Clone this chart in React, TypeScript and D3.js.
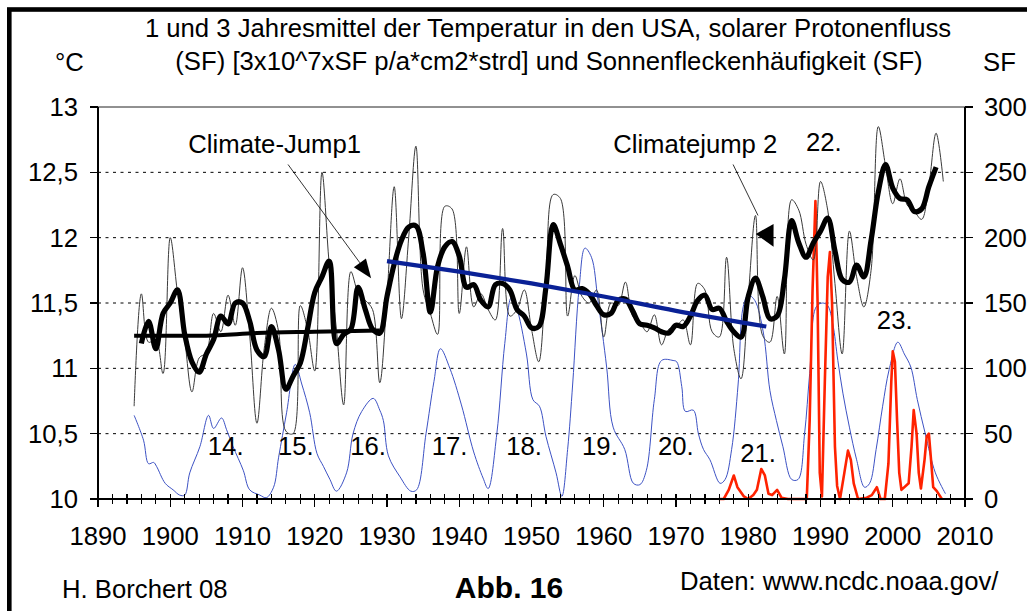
import React from "react";
import * as d3 from "d3";

// ---------- data ----------
const TEMP_START = 1895;
// annual mean temperature USA (°C), 1895–2007
const tempAnnual = [
  10.71, 11.57, 11.2, 11.22, 10.96, 12.0, 11.58, 11.22, 10.82, 11.08,
  11.12, 11.42, 11.28, 11.56, 11.33, 11.77, 11.25, 10.58, 11.15, 11.46,
  11.28, 10.52, 10.5, 11.48, 11.3, 10.98, 12.5, 11.8, 11.3, 10.72,
  11.74, 11.58, 11.52, 11.45, 10.89, 11.55, 12.39, 11.38, 12.0, 12.7,
  11.6, 11.42, 11.26, 12.24, 12.22, 11.42, 11.93, 11.47, 11.57, 11.45,
  11.37, 12.07, 11.4, 11.45, 11.6, 11.3, 11.05, 11.7, 12.33, 12.3,
  11.4, 11.71, 11.55, 11.5, 11.6, 11.24, 11.5, 11.48, 11.66, 11.4,
  11.35, 11.28, 11.41, 11.18, 11.3, 11.32, 11.37, 11.18, 11.65, 11.6,
  11.28, 11.24, 11.85, 11.15, 10.92, 11.55, 12.17, 11.25, 11.2, 11.55,
  11.11, 12.29, 12.21, 11.95, 11.83, 12.43, 12.21, 11.65, 11.11, 12.05,
  11.7, 11.47, 11.75, 12.85, 12.55, 12.26, 12.45, 12.25, 12.2, 12.14,
  12.4, 12.8, 12.43,
];
const MEAN_START = 1896;
// 3-year running mean (°C), 1896–2006
const temp3yr = [
  11.19, 11.36, 11.15, 11.42, 11.5, 11.6, 11.26, 11.05, 10.97, 11.11,
  11.22, 11.4, 11.34, 11.5, 11.5, 11.36, 11.14, 11.09, 11.32, 11.14,
  10.84, 10.94, 11.04, 11.3, 11.58, 11.7, 11.82, 11.19, 11.26, 11.3,
  11.62, 11.45, 11.3, 11.27, 11.55, 11.8, 11.98, 12.08, 12.09, 11.88,
  11.43, 11.78, 11.93, 11.97, 11.86, 11.62, 11.64, 11.52, 11.47, 11.64,
  11.65, 11.6, 11.45, 11.4, 11.31, 11.32, 11.62, 12.1, 11.95, 11.78,
  11.6, 11.61, 11.57, 11.48, 11.41, 11.42, 11.52, 11.53, 11.44, 11.34,
  11.33, 11.31, 11.28, 11.27, 11.33, 11.32, 11.4, 11.52, 11.56, 11.45,
  11.46, 11.36, 11.28, 11.24, 11.55, 11.69, 11.55, 11.38, 11.4, 11.68,
  12.13, 11.96, 11.85, 11.96, 12.05, 12.15, 11.9, 11.68, 11.66, 11.79,
  11.7, 11.98, 12.35, 12.56, 12.38, 12.3, 12.29, 12.2, 12.22, 12.39,
  12.54,
];
// trend lines (year, °C)
const trendEarly: [number, number][] = [
  [1895, 11.25], [1905, 11.25], [1912, 11.27], [1920, 11.28], [1929, 11.29],
];
const trendLate: [number, number][] = [
  [1930, 11.82], [1940, 11.74], [1950, 11.65], [1960, 11.55], [1970, 11.44], [1982.5, 11.32],
];
// sunspot number SF (year, value) – right axis
const sunspots: [number, number][] = [
  [1895.0, 64], [1896.3, 45], [1897.0, 27], [1897.7, 28], [1898.1, 25], [1899.3, 12],
  [1900.4, 7], [1901.3, 3], [1902.0, 3], [1902.7, 20], [1904.1, 40], [1905.3, 64],
  [1906.0, 54], [1907.1, 62], [1907.8, 53], [1908.7, 40], [1910.1, 22], [1911.0, 7],
  [1912.4, 3], [1913.3, 1], [1914.3, 9], [1915.0, 32], [1916.1, 66], [1917.3, 103],
  [1918.2, 88], [1919.3, 66], [1920.3, 35], [1921.2, 25], [1922.1, 15], [1923.0, 6],
  [1924.4, 20], [1925.3, 50], [1926.5, 67], [1928.1, 77], [1929.0, 68], [1929.5, 60],
  [1930.2, 33], [1931.8, 17], [1933.3, 6], [1934.1, 7], [1935.4, 50], [1936.5, 90],
  [1937.4, 115], [1938.7, 100], [1940.3, 72], [1942.0, 36], [1943.3, 16], [1944.0, 8],
  [1945.2, 50], [1946.3, 119], [1947.2, 154], [1947.9, 147], [1949.3, 111], [1950.2, 76],
  [1951.1, 71], [1952.0, 48], [1953.4, 20], [1954.2, 2], [1955.0, 38], [1955.7, 88],
  [1956.6, 162], [1957.4, 192], [1958.3, 185], [1959.2, 152], [1960.4, 101], [1961.3, 55],
  [1962.9, 38], [1964.1, 12], [1965.0, 11], [1965.9, 22], [1967.0, 76], [1968.0, 106],
  [1969.6, 106], [1970.1, 105], [1970.8, 86], [1971.3, 67], [1972.4, 68], [1973.1, 50],
  [1973.8, 38], [1974.7, 30], [1976.1, 12], [1976.8, 15], [1977.7, 38], [1978.6, 88],
  [1979.3, 147], [1980.0, 156], [1980.9, 152], [1982.1, 127], [1983.0, 83], [1983.9, 60],
  [1984.8, 40], [1986.0, 15], [1986.9, 15], [1987.8, 50], [1988.5, 96], [1989.4, 147],
  [1990.3, 150], [1991.0, 148], [1991.7, 134], [1992.4, 106], [1993.1, 81], [1994.0, 55],
  [1995.0, 30], [1996.1, 9], [1996.8, 12], [1997.7, 38], [1998.6, 71], [1999.5, 99],
  [2000.7, 120], [2001.6, 111], [2002.5, 101], [2003.4, 76], [2004.5, 50], [2005.9, 20],
  [2007.3, 4],
];
// solar proton flux (year, value) – right axis
const protons: [number, number][] = [
  [1975.9, 0], [1976.6, 0], [1977.3, 7], [1978.0, 18], [1978.5, 9], [1979.4, 2],
  [1980.0, 0], [1980.7, 3], [1981.2, 7], [1981.8, 23], [1982.3, 18], [1982.8, 4],
  [1983.3, 3], [1984.0, 7], [1984.6, 1], [1985.5, 0], [1986.5, 0], [1987.5, 0],
  [1988.1, 0], [1988.5, 60], [1988.9, 160], [1989.3, 228], [1989.6, 150], [1989.9, 20],
  [1990.2, 2], [1990.6, 90], [1991.0, 170], [1991.3, 189], [1991.6, 150], [1992.0, 40],
  [1992.3, 10], [1992.7, 0], [1993.3, 20], [1993.8, 37], [1994.2, 30], [1994.6, 12],
  [1995.2, 0], [1996.4, 1], [1997.1, 3], [1997.8, 9], [1998.3, 0], [1998.9, 0],
  [1999.4, 27], [1999.8, 90], [2000.0, 113], [2000.3, 105], [2000.6, 60], [2000.9, 20],
  [2001.2, 7], [2002.2, 12], [2002.6, 40], [2002.9, 68], [2003.3, 50], [2003.6, 20],
  [2003.9, 8], [2004.4, 30], [2004.7, 48], [2005.0, 50], [2005.3, 30], [2005.6, 9],
  [2006.1, 6], [2006.8, 0],
];
const xMajorTicks = [1890, 1900, 1910, 1920, 1930, 1940, 1950, 1960, 1970, 1980, 1990, 2000, 2010];
const tempTicks = [10, 10.5, 11, 11.5, 12, 12.5, 13];
const tempTickLabels = ["10", "10,5", "11", "11,5", "12", "12,5", "13"];
const sfTicks = [0, 50, 100, 150, 200, 250, 300];
const gridLevels = [10.5, 11, 11.5, 12, 12.5];
const cycleNames = ["14.", "15.", "16.", "17.", "18.", "19.", "20.", "21.", "22.", "23."];
const cycleYears = [1905.2, 1914.9, 1924.9, 1936.2, 1946.5, 1957.0, 1967.5, 1978.9, 1988.0, 1997.8];
const cycleLevels = [34, 34, 34, 34, 34, 34, 34, 28, 266, 130];

const TITLE1 = "1 und 3 Jahresmittel der Temperatur in den USA, solarer Protonenfluss";
const TITLE2 = "(SF) [3x10^7xSF p/a*cm2*strd] und Sonnenfleckenhäufigkeit (SF)";

const FONT = "'Liberation Sans', Arial, sans-serif";
const FS = 25.7;

export default function App() {
  const W = 1027;
  const H = 611;
  const x = d3.scaleLinear().domain([1890, 2010]).range([98, 965]);
  const yT = d3.scaleLinear().domain([10, 13]).range([499, 107]);
  const yS = d3.scaleLinear().domain([0, 300]).range([499, 107]);

  const smoothT = d3
    .line<[number, number]>()
    .x((d) => x(d[0]))
    .y((d) => yT(d[1]))
    .curve(d3.curveCatmullRom.alpha(0.5));
  const straightT = d3
    .line<[number, number]>()
    .x((d) => x(d[0]))
    .y((d) => yT(d[1]))
    .curve(d3.curveMonotoneX);
  const smoothS = d3
    .line<[number, number]>()
    .x((d) => x(d[0]))
    .y((d) => yS(d[1]))
    .curve(d3.curveCatmullRom.alpha(0.5));
  const linearS = d3
    .line<[number, number]>()
    .x((d) => x(d[0]))
    .y((d) => yS(d[1]));

  const annual: [number, number][] = tempAnnual.map((v, i) => [TEMP_START + i, v]);
  const mean3: [number, number][] = temp3yr.map((v, i) => [MEAN_START + i, v]);

  const minorTicks = d3.range(1890, 2011, 2);

  // annotation: Climate-Jump1 arrow (data coordinates)
  const j1a: [number, number] = [x(1916.3), yT(12.56)];
  const j1b: [number, number] = [x(1927.8), yT(11.69)];
  const dx = j1b[0] - j1a[0];
  const dy = j1b[1] - j1a[1];
  const len = Math.hypot(dx, dy);
  const ux = dx / len;
  const uy = dy / len;
  const headL = 19;
  const headW = 7.5;
  const bx = j1b[0] - ux * headL;
  const by = j1b[1] - uy * headL;
  const head1 = `M${j1b[0]},${j1b[1]}L${bx - uy * headW},${by + ux * headW}L${bx + uy * headW},${by - ux * headW}Z`;

  const j2a: [number, number] = [x(1977.9), yT(12.56)];
  const j2b: [number, number] = [x(1981.35), yT(12.17)];
  const head2 = `M${x(1981.05)},${yT(12.028)}L${x(1983.5)},${yT(12.105)}L${x(1983.5)},${yT(11.93)}Z`;

  return (
    <svg
      width={W}
      height={H}
      style={{ position: "absolute", left: 0, top: 0, background: "#fff" }}
      fontFamily={FONT}
    >
      <rect x={0} y={0} width={W} height={H} fill="#fff" />
      {/* outer frame */}
      <rect x={9.3} y={9.5} width={1200} height={800} fill="none" stroke="#000" strokeWidth={4.6} />

      {/* titles */}
      <text x={548} y={37} fontSize={FS} textAnchor="middle" fill="#000">{TITLE1}</text>
      <text x={549} y={70} fontSize={FS} textAnchor="middle" fill="#000">{TITLE2}</text>
      <text x={55} y={71} fontSize={FS} fill="#000">°C</text>
      <text x={983} y={71} fontSize={FS} fill="#000">SF</text>

      {/* grid */}
      {gridLevels.map((g) => (
        <line key={g} x1={98} x2={965} y1={yT(g)} y2={yT(g)} stroke="#000" strokeWidth={1} strokeDasharray="3,4.5" />
      ))}
      <line x1={98} x2={965} y1={yT(13)} y2={yT(13)} stroke="#222" strokeWidth={1} />

      {/* series */}
      <path d={smoothS(sunspots) || ""} fill="none" stroke="#3d52c4" strokeWidth={1} />
      <path d={linearS(protons) || ""} fill="none" stroke="#ff2200" strokeWidth={2.6} strokeLinejoin="round" />
      <path d={smoothT(annual) || ""} fill="none" stroke="#3a3a3a" strokeWidth={1} />
      <path d={smoothT(mean3) || ""} fill="none" stroke="#000" strokeWidth={5.2} strokeLinejoin="round" />
      <path d={straightT(trendEarly) || ""} fill="none" stroke="#000" strokeWidth={4} />
      <path d={straightT(trendLate) || ""} fill="none" stroke="#0a2196" strokeWidth={4.2} />

      {/* axes */}
      <g shapeRendering="crispEdges">
        <line x1={98} x2={98} y1={107} y2={500} stroke="#000" strokeWidth={1.3} />
        <line x1={965} x2={965} y1={107} y2={500} stroke="#000" strokeWidth={1.3} />
        <line x1={90} x2={973} y1={499} y2={499} stroke="#000" strokeWidth={1.3} />
        {tempTicks.map((t) => (
          <line key={"lt" + t} x1={90} x2={98} y1={yT(t)} y2={yT(t)} stroke="#000" strokeWidth={1.2} />
        ))}
        {sfTicks.map((t) => (
          <line key={"rt" + t} x1={965} x2={973} y1={yS(t)} y2={yS(t)} stroke="#000" strokeWidth={1.2} />
        ))}
        {minorTicks.map((t) => (
          <line
            key={"xt" + t}
            x1={x(t)}
            x2={x(t)}
            y1={494}
            y2={t % 10 === 0 ? 507 : 504}
            stroke="#000"
            strokeWidth={1.2}
          />
        ))}
      </g>

      {/* axis labels */}
      {tempTicks.map((t, i) => (
        <text key={"ll" + t} x={78} y={yT(t) + 9} fontSize={FS} textAnchor="end" fill="#000">
          {tempTickLabels[i]}
        </text>
      ))}
      {sfTicks.map((t) => (
        <text key={"rl" + t} x={984} y={yS(t) + 9} fontSize={FS} fill="#000">
          {t}
        </text>
      ))}
      {xMajorTicks.map((t) => (
        <text key={"xl" + t} x={x(t)} y={545} fontSize={FS} textAnchor="middle" fill="#000">
          {t}
        </text>
      ))}

      {/* cycle labels */}
      {cycleNames.map((c, i) => (
        <text key={c} x={x(cycleYears[i])} y={yS(cycleLevels[i])} fontSize={FS} fill="#000">
          {c}
        </text>
      ))}

      {/* annotations */}
      <text x={x(1902.5)} y={yT(12.65)} fontSize={FS} fill="#000">Climate-Jump1</text>
      <line x1={j1a[0]} y1={j1a[1]} x2={bx} y2={by} stroke="#000" strokeWidth={0.8} />
      <path d={head1} fill="#000" />
      <text x={x(1961.3)} y={yT(12.65)} fontSize={FS} fill="#000">Climatejump 2</text>
      <line x1={j2a[0]} y1={j2a[1]} x2={j2b[0]} y2={j2b[1]} stroke="#000" strokeWidth={0.8} />
      <path d={head2} fill="#000" />

      {/* footer */}
      <text x={62} y={598} fontSize={FS} fill="#000">H. Borchert 08</text>
      <text x={509} y={598} fontSize={30} fontWeight="bold" textAnchor="middle" fill="#000">Abb. 16</text>
      <text x={680} y={590} fontSize={FS} fill="#000">Daten: www.ncdc.noaa.gov/</text>
    </svg>
  );
}
